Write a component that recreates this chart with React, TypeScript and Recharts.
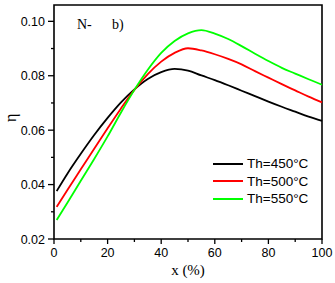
import React from 'react';
import {
  LineChart,
  Line,
  XAxis,
  YAxis,
  ReferenceArea,
} from 'recharts';

// x (%) sample positions
const xValues = [1, 5, 10, 15, 20, 25, 30, 35, 40, 45, 50, 55, 60, 65, 70, 75, 80, 85, 90, 95, 100];

// efficiency for each hot-side temperature
const eta450 = [0.0376, 0.044, 0.0513, 0.0582, 0.0645, 0.0702, 0.075, 0.0788, 0.0813, 0.0825, 0.0819, 0.0801, 0.0784, 0.0765, 0.0745, 0.0725, 0.0705, 0.0686, 0.0668, 0.065, 0.0634];
const eta500 = [0.0318, 0.038, 0.0456, 0.0532, 0.0607, 0.068, 0.0748, 0.0806, 0.0852, 0.0884, 0.0901, 0.0893, 0.0879, 0.0862, 0.0842, 0.0817, 0.0793, 0.0769, 0.0746, 0.0723, 0.0702];
const eta550 = [0.027, 0.0333, 0.0414, 0.0494, 0.0577, 0.0665, 0.0748, 0.0822, 0.0884, 0.0928, 0.0956, 0.0968, 0.0955, 0.0935, 0.0909, 0.0881, 0.0854, 0.0829, 0.0808, 0.0787, 0.0767];

const xTicks = [0, 10, 20, 30, 40, 50, 60, 70, 80, 90, 100];
const yTicks = [0.02, 0.03, 0.04, 0.05, 0.06, 0.07, 0.08, 0.09, 0.10];

const seriesList = [
  { key: 'th450', name: 'Th=450°C', color: '#000000', values: eta450 },
  { key: 'th500', name: 'Th=500°C', color: '#ff0000', values: eta500 },
  { key: 'th550', name: 'Th=550°C', color: '#00ff00', values: eta550 },
];

const data = xValues.map((x, i) => {
  const row: Record<string, number> = { x };
  seriesList.forEach((s) => {
    row[s.key] = s.values[i];
  });
  return row;
});

const sans = '"Liberation Sans", Arial, sans-serif';
const serif = '"Liberation Serif", "Times New Roman", serif';

const YTick = (props: any) => {
  const { x, y, payload } = props;
  const major = Math.round(payload.value * 100) % 2 === 0;
  return (
    <g>
      <line x1={x - (major ? 6 : 3)} y1={y} x2={x} y2={y} stroke="#000" strokeWidth={1.3} />
      {major && (
        <text x={x - 9} y={y + 4.5} textAnchor="end" fontSize={12.5} fontFamily={sans} fill="#000">
          {payload.value.toFixed(2)}
        </text>
      )}
    </g>
  );
};

const XTick = (props: any) => {
  const { x, y, payload } = props;
  const major = payload.value % 20 === 0;
  return (
    <g>
      <line x1={x} y1={y} x2={x} y2={y + (major ? 5 : 3)} stroke="#000" strokeWidth={1.3} />
      {major && (
        <text x={x} y={y + 18} textAnchor="middle" fontSize={12.5} fontFamily={sans} fill="#000">
          {payload.value}
        </text>
      )}
    </g>
  );
};

// legend drawn as an overlay so it does not shrink the plot
const LegendBox = () => (
  <div style={{ position: 'absolute', left: 213, top: 155, fontFamily: sans, fontSize: 13.5, color: '#000' }}>
    {seriesList.map((s) => (
      <div key={s.key} style={{ display: 'flex', alignItems: 'center', height: 17.5 }}>
        <svg width={30} height={4} style={{ display: 'block' }}>
          <line x1={0} y1={2} x2={30} y2={2} stroke={s.color} strokeWidth={2} />
        </svg>
        <span style={{ marginLeft: 4, whiteSpace: 'nowrap' }}>{s.name}</span>
      </div>
    ))}
  </div>
);

export default function App() {
  return (
    <div style={{ position: 'absolute', left: 0, top: 0, width: 335, height: 283, background: '#fff' }}>
      <LineChart width={335} height={283} data={data} margin={{ top: 5, right: 13, bottom: 0, left: 0 }}>
        <XAxis
          dataKey="x"
          type="number"
          domain={[0, 100]}
          ticks={xTicks}
          interval={0}
          height={44}
          tickSize={0}
          tickMargin={0}
          axisLine={false}
          tick={XTick}
          label={{ value: 'x (%)', position: 'insideBottom', offset: 8, fontFamily: serif, fontSize: 15, fill: '#000' }}
        />
        <YAxis
          type="number"
          domain={[0.02, 0.106]}
          ticks={yTicks}
          interval={0}
          width={54}
          tickSize={0}
          tickMargin={0}
          axisLine={false}
          tick={YTick}
          label={{ value: 'η', angle: -90, position: 'insideLeft', offset: 10, fontFamily: serif, fontSize: 16, fill: '#000' }}
        />
        <ReferenceArea
          x1={0}
          x2={100}
          y1={0.02}
          y2={0.106}
          fill="none"
          stroke="#000"
          strokeWidth={1.6}
          ifOverflow="visible"
        />
        {seriesList.map((s) => (
          <Line
            key={s.key}
            type="monotone"
            dataKey={s.key}
            name={s.name}
            stroke={s.color}
            strokeWidth={1.8}
            dot={false}
            isAnimationActive={false}
          />
        ))}
      </LineChart>
      <LegendBox />
      <div style={{ position: 'absolute', left: 77, top: 17, fontFamily: serif, fontSize: 14, color: '#000' }}>N-</div>
      <div style={{ position: 'absolute', left: 112, top: 17, fontFamily: serif, fontSize: 14, color: '#000' }}>b)</div>
    </div>
  );
}
